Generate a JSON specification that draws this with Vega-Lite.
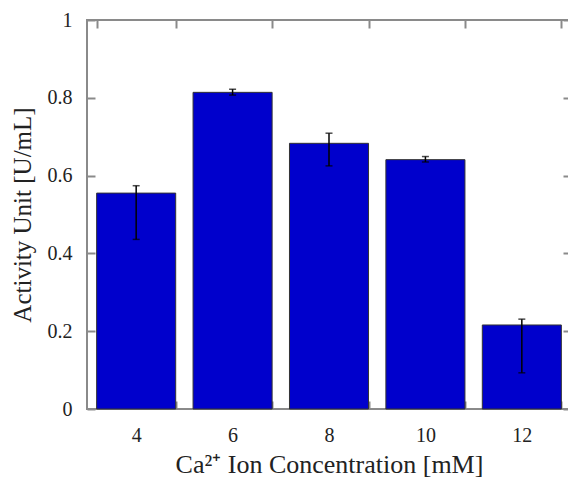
{
  "$schema": "https://vega.github.io/schema/vega-lite/v6.json",
  "width": 484,
  "height": 389,
  "padding": {"left": 10, "top": 10, "right": 0, "bottom": 0},
  "background": "white",
  "config": {
    "view": {"stroke": "#8a8a8a", "strokeWidth": 2},
    "font": "Liberation Serif",
    "style": {"guide-label": {"font": "Liberation Serif"}, "guide-title": {"font": "Liberation Serif"}},
    "axis": {
      "domain": false,
      "grid": false,
      "tickColor": "#8a8a8a",
      "tickWidth": 2,
      "tickSize": -8,
      "labelFont": "Liberation Serif",
      "titleFont": "Liberation Serif",
      "labelFontSize": 20,
      "titleFontSize": 25,
      "labelColor": "#222",
      "titleColor": "#222",
      "titleFontWeight": "normal"
    }
  },
  "data": {
    "values": [
      {"conc": 4, "activity": 0.555, "lo": 0.436, "hi": 0.574},
      {"conc": 6, "activity": 0.814, "lo": 0.807, "hi": 0.822},
      {"conc": 8, "activity": 0.683, "lo": 0.625, "hi": 0.709},
      {"conc": 10, "activity": 0.641, "lo": 0.635, "hi": 0.649},
      {"conc": 12, "activity": 0.216, "lo": 0.093, "hi": 0.231}
    ]
  },
  "resolve": {"axis": {"x": "independent", "y": "independent"}},
  "layer": [
    {
      "mark": {"type": "bar", "color": "#0000CC", "stroke": "#333333", "strokeWidth": 1},
      "encoding": {
        "x": {
          "field": "conc", "type": "ordinal",
          "scale": {"paddingInner": 0.18, "paddingOuter": 0.1},
          "axis": {"orient": "bottom", "title": "Ca²⁺ Ion Concentration [mM]", "labelAngle": 0, "tickBand": "extent", "labelPadding": 24, "titlePadding": 6, "labelFont": "Liberation Serif", "titleFont": "Liberation Serif", "titleFontSize": 26}
        },
        "y": {
          "field": "activity", "type": "quantitative",
          "scale": {"domain": [0, 1]},
          "axis": {"orient": "left", "title": "Activity Unit [U/mL]", "values": [0, 0.2, 0.4, 0.6, 0.8, 1], "format": "~g", "labelPadding": 23, "titlePadding": 12, "labelFont": "Liberation Serif", "titleFont": "Liberation Serif"}
        }
      }
    },
    {
      "mark": {"type": "rule", "color": "#000000", "strokeWidth": 1.5},
      "encoding": {
        "x": {"field": "conc", "type": "ordinal", "axis": {"orient": "top", "title": null, "labels": false, "tickBand": "extent"}},
        "y": {"field": "lo", "type": "quantitative", "axis": {"orient": "right", "title": null, "labels": false, "values": [0, 0.2, 0.4, 0.6, 0.8, 1]}},
        "y2": {"field": "hi"}
      }
    },
    {
      "mark": {"type": "tick", "color": "#000000", "size": 7, "thickness": 1.5},
      "encoding": {
        "x": {"field": "conc", "type": "ordinal", "axis": null},
        "y": {"field": "lo", "type": "quantitative", "axis": null}
      }
    },
    {
      "mark": {"type": "tick", "color": "#000000", "size": 7, "thickness": 1.5},
      "encoding": {
        "x": {"field": "conc", "type": "ordinal", "axis": null},
        "y": {"field": "hi", "type": "quantitative", "axis": null}
      }
    }
  ]
}
